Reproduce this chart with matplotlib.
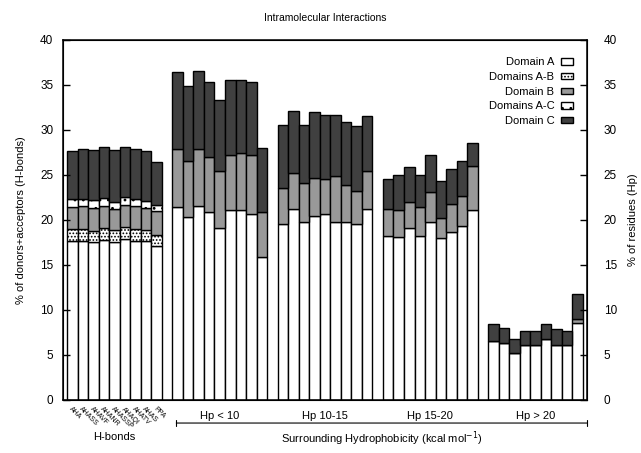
import matplotlib
matplotlib.use("Agg")
import matplotlib.pyplot as plt
from matplotlib.patches import Patch
import matplotlib.transforms as mtransforms

plt.rcParams['font.family'] = ['Liberation Sans', 'DejaVu Sans']
plt.rcParams['hatch.color'] = '#555555'
plt.rcParams['hatch.linewidth'] = 0.8

# H-bonds: five stacked layers per complex
hbond_labels = ['AHA', 'AHASS', 'AHAVF', 'AHANR', 'AHASSP', 'AHAQI', 'AHATV', 'AHAS', 'PPA']
hb_domain_a = [17.7, 17.7, 17.5, 17.8, 17.5, 17.9, 17.7, 17.7, 17.1]
hb_domains_ab = [1.3, 1.3, 1.3, 1.3, 1.4, 1.3, 1.3, 1.2, 1.2]
hb_domain_b = [2.4, 2.5, 2.5, 2.5, 2.3, 2.5, 2.5, 2.4, 2.7]
hb_domains_ac = [0.9, 0.8, 0.9, 0.8, 0.8, 0.9, 0.8, 0.8, 0.7]
hb_domain_c = [5.4, 5.6, 5.6, 5.7, 5.8, 5.5, 5.6, 5.6, 4.7]

# Surrounding hydrophobicity groups: three layers per complex
hp_groups = ['Hp < 10', 'Hp 10-15', 'Hp 15-20', 'Hp > 20']
hp_domain_a = [
    [21.4, 20.3, 21.6, 20.9, 19.1, 21.1, 21.1, 20.7, 15.9],
    [19.6, 21.2, 19.8, 20.4, 20.7, 19.8, 19.8, 19.6, 21.2],
    [18.2, 18.1, 19.1, 18.2, 19.8, 18.0, 18.7, 19.3, 21.1],
    [6.6, 6.3, 5.2, 6.1, 6.1, 6.8, 6.1, 6.1, 8.6],
]
hp_domain_b = [
    [6.5, 6.3, 6.3, 6.1, 6.3, 6.1, 6.3, 6.5, 5.0],
    [4.0, 4.0, 4.3, 4.3, 3.8, 5.1, 4.1, 3.6, 4.2],
    [3.0, 3.0, 2.9, 3.2, 3.3, 2.2, 3.1, 3.4, 4.9],
    [0.0, 0.0, 0.0, 0.0, 0.0, 0.0, 0.0, 0.0, 0.4],
]
hp_domain_c = [
    [8.5, 8.3, 8.7, 8.3, 7.9, 8.3, 8.1, 8.1, 7.1],
    [7.0, 6.9, 6.5, 7.3, 7.2, 6.8, 7.0, 7.2, 6.1],
    [3.4, 3.9, 3.9, 3.6, 4.1, 4.1, 3.9, 3.9, 2.6],
    [1.8, 1.7, 1.6, 1.6, 1.6, 1.6, 1.8, 1.6, 2.8],
]

styles = {
    'Domain A': dict(facecolor='white'),
    'Domains A-B': dict(facecolor='white', hatch='.....'),
    'Domain B': dict(facecolor='#999999'),
    'Domains A-C': dict(facecolor='white', hatch='..'),
    'Domain C': dict(facecolor='#404040'),
}

fig = plt.figure(figsize=(6.41, 4.53), dpi=100)
ax = fig.add_axes([0.0983, 0.117, 0.8175, 0.7947])
ax2 = ax.twinx()

def stack(xs, layers):
    bottom = [0.0] * len(xs)
    for name, vals in layers:
        ax.bar(xs, vals, bottom=bottom, width=1.0, edgecolor='black',
               linewidth=1.0, **styles[name])
        bottom = [b + v for b, v in zip(bottom, vals)]

hb_x = list(range(len(hbond_labels)))
stack(hb_x, [('Domain A', hb_domain_a), ('Domains A-B', hb_domains_ab),
             ('Domain B', hb_domain_b), ('Domains A-C', hb_domains_ac),
             ('Domain C', hb_domain_c)])

group_centers = []
for g in range(len(hp_groups)):
    xs = [10 * (g + 1) + i for i in range(9)]
    stack(xs, [('Domain A', hp_domain_a[g]), ('Domain B', hp_domain_b[g]),
               ('Domain C', hp_domain_c[g])])
    group_centers.append(sum(xs) / len(xs))

for a in (ax, ax2):
    a.set_ylim(0, 40)
    a.set_yticks(range(0, 41, 5))
    a.tick_params(axis='y', direction='in', length=5, labelsize=8.5, width=1)
ax.tick_params(axis='y', pad=7)
ax2.tick_params(axis='y', pad=12)
ax.set_xlim(-0.88, 48.88)
for s in ax.spines.values():
    s.set_linewidth(1.1)

ax.set_xticks(hb_x)
ax.set_xticklabels(hbond_labels, rotation=-45, ha='left', va='top',
                   rotation_mode='anchor', fontsize=5)
ax.tick_params(axis='x', length=0, pad=4)

ax.set_ylabel('% of donors+acceptors (H-bonds)', fontsize=8, labelpad=10)
ax2.set_ylabel('% of residues (Hp)', fontsize=8)
ax2.yaxis.set_label_coords(1.078, 0.5)
ax.set_title('Intramolecular Interactions', fontsize=7.5, pad=14)

trans = mtransforms.blended_transform_factory(ax.transData, ax.transAxes)
for c, name in zip(group_centers, hp_groups):
    ax.text(c, -0.045, name, transform=trans, ha='center', va='center', fontsize=8)
ax.text(4, -0.103, 'H-bonds', transform=trans, ha='center', va='center', fontsize=8)

# bracket under the hydrophobicity groups
ax.annotate('', xy=(9.88, -0.064), xytext=(48.88, -0.064), xycoords=trans,
            textcoords=trans, annotation_clip=False,
            arrowprops=dict(arrowstyle='|-|, widthA=0.2, widthB=0.2', lw=0.8,
                            color='black', shrinkA=0, shrinkB=0))
ax.text(29.4, -0.107, 'Surrounding Hydrophobicity (kcal mol$^{-1}$)',
        transform=trans, ha='center', va='center', fontsize=8)

handles = [Patch(edgecolor='black', linewidth=1.0, label=k, **v) for k, v in styles.items()]
ax.legend(handles=handles, loc='upper right', bbox_to_anchor=(1, 0.99),
          frameon=False, markerfirst=False, fontsize=8, handlelength=1.1,
          handleheight=0.5, labelspacing=0.42, handletextpad=0.6,
          borderaxespad=0.85)

fig.savefig('out.png', dpi=100)
